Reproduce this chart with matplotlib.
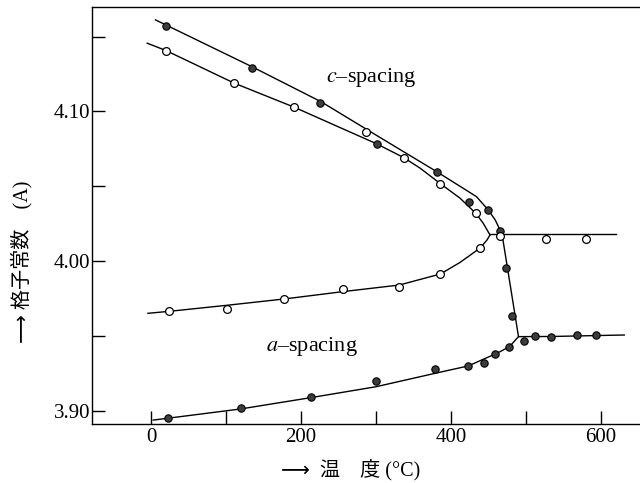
import matplotlib
matplotlib.use("Agg")
import matplotlib.pyplot as plt
from matplotlib.ticker import FixedLocator, FuncFormatter

plt.rcParams['font.family'] = ['Liberation Serif', 'Noto Sans CJK JP', 'DejaVu Sans']
plt.rcParams['mathtext.fontset'] = 'stix'

# ---- measured lattice spacings (sample 1: filled, sample 2: open) ----
temp_c_filled = [20, 135, 226, 301, 381, 424, 450, 466, 473, 482]
c_filled = [4.157, 4.129, 4.1055, 4.078, 4.0597, 4.0397, 4.0339, 4.0201, 3.9951, 3.9634]

temp_a_filled = [23, 120, 213, 300, 379, 423, 444, 459, 478, 497, 512, 534, 568, 593]
a_filled = [3.8952, 3.9015, 3.9092, 3.9199, 3.9276, 3.9300, 3.9316, 3.9376,
            3.9426, 3.9467, 3.9498, 3.9494, 3.9503, 3.9503]

temp_c_open = [20, 111, 191, 287, 337, 385, 433, 465]
c_open = [4.1407, 4.1189, 4.1028, 4.0863, 4.0691, 4.0513, 4.0319, 4.0167]

temp_a_open = [24, 102, 178, 256, 331, 386, 439]
a_open = [3.9668, 3.9677, 3.9746, 3.9811, 3.9828, 3.9911, 4.0087]

temp_cubic_open = [527, 580]
cubic_open = [4.0145, 4.0145]

# ---- hand-drawn fit curves ----
fit_c_filled_t = [6, 135, 227, 301, 381, 434, 450, 459, 466, 468]
fit_c_filled_v = [4.1612, 4.1298, 4.1064, 4.0839, 4.0597, 4.0430, 4.0339, 4.0274, 4.0201, 4.0181]

fit_drop_t = [468, 490]
fit_drop_v = [4.0181, 3.9494]

fit_a_filled_t = [3, 119, 213, 300, 379, 423, 463, 478, 490, 534, 631]
fit_a_filled_v = [3.8936, 3.9010, 3.9086, 3.9159, 3.9249, 3.9298, 3.9387, 3.9427, 3.9494, 3.9495, 3.9505]

fit_c_open_t = [-5, 20, 111, 191, 301, 337, 359, 385, 412, 433, 443, 452]
fit_c_open_v = [4.1456, 4.1407, 4.1189, 4.1028, 4.0783, 4.0691, 4.0620, 4.0520, 4.0420, 4.0319, 4.0252, 4.0174]

fit_a_open_t = [-4, 24, 102, 178, 256, 331, 386, 412, 439, 448, 452]
fit_a_open_v = [3.9650, 3.9663, 3.9704, 3.9746, 3.9795, 3.9839, 3.9913, 3.9990, 4.0087, 4.0140, 4.0174]

fit_cubic_t = [452, 620]
fit_cubic_v = [4.0177, 4.0177]

x_major = [0, 200, 400, 600]
x_minor = [100, 300, 500]
y_major = [3.90, 4.00, 4.10]
y_minor = [3.95, 4.05, 4.15]

fig = plt.figure(figsize=(6.4, 4.83), dpi=100)
ax = fig.add_axes([0.1433, 0.1222, 0.8567, 0.8639])

line_kw = dict(color='black', lw=1.0, zorder=2, solid_joinstyle='round')
for t, v in [(fit_c_filled_t, fit_c_filled_v), (fit_drop_t, fit_drop_v),
             (fit_a_filled_t, fit_a_filled_v), (fit_c_open_t, fit_c_open_v),
             (fit_a_open_t, fit_a_open_v), (fit_cubic_t, fit_cubic_v)]:
    ax.plot(t, v, **line_kw)

filled_kw = dict(ls='none', marker='o', ms=5.3, mfc='#3c3c3c', mec='black', mew=0.8, zorder=3)
open_kw = dict(ls='none', marker='o', ms=5.6, mfc='white', mec='black', mew=0.9, zorder=3)
ax.plot(temp_c_filled, c_filled, **filled_kw)
ax.plot(temp_a_filled, a_filled, **filled_kw)
ax.plot(temp_c_open, c_open, **open_kw)
ax.plot(temp_a_open, a_open, **open_kw)
ax.plot(temp_cubic_open, cubic_open, **open_kw)

ax.set_xlim(-79, 652)
ax.set_ylim(3.891, 4.170)

ax.xaxis.set_major_locator(FixedLocator(x_major))
ax.xaxis.set_minor_locator(FixedLocator(x_minor))
ax.yaxis.set_major_locator(FixedLocator(y_major))
ax.yaxis.set_minor_locator(FixedLocator(y_minor))
ax.yaxis.set_major_formatter(FuncFormatter(lambda v, p: f"{v:.2f}"))
ax.tick_params(which='both', direction='in', length=9.5, width=1.0, labelsize=15)
ax.tick_params(axis='x', which='both', top=False, pad=3)
ax.tick_params(axis='y', which='both', right=False, pad=1)

for s in ['left', 'bottom', 'top']:
    ax.spines[s].set_linewidth(1.0)
ax.spines['right'].set_visible(False)

ax.text(294, 4.1224, r"$c$–spacing", ha='center', va='center', fontsize=16)
ax.text(214, 3.9431, r"$a$–spacing", ha='center', va='center', fontsize=16)

fig.text(351 / 640, 1 - 470 / 483, "⟶  温　度 (°C)", ha='center', va='center', fontsize=14.5)
fig.text(22 / 640, 1 - 262 / 483, "⟶ 格子常数　(A)", ha='center', va='center',
         fontsize=14.5, rotation=90)

fig.savefig("out.png", dpi=100)
